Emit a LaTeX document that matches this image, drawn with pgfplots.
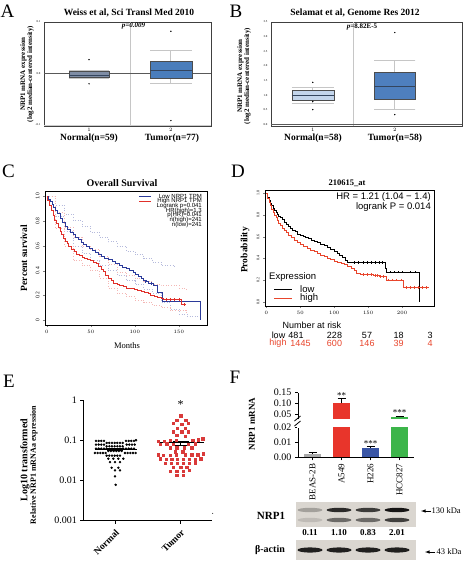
\documentclass[border=0pt]{standalone}
\usepackage{pgfplots}
\pgfplotsset{compat=1.18}
\usepgfplotslibrary{statistics}
\usepackage{fontspec}
\setmainfont{Liberation Serif}
\setsansfont{Liberation Sans}
\newcommand{\fs}[1]{\fontsize{#1}{#1}\selectfont}
\definecolor{anorm}{HTML}{7F8DA5}
\definecolor{atum}{HTML}{4A7DBB}
\definecolor{bnorm}{HTML}{C3D5EB}
\definecolor{btum}{HTML}{4E7FBE}
\definecolor{medc}{HTML}{34455E}
\definecolor{kmblue}{HTML}{2B3A9A}
\definecolor{kmred}{HTML}{E0302A}
\definecolor{dred}{HTML}{E8452C}
\definecolor{ered}{HTML}{D93A3A}
\definecolor{fgray}{HTML}{A9A9A9}
\definecolor{fred}{HTML}{E8352B}
\definecolor{fblue}{HTML}{3A56A6}
\definecolor{fgreen}{HTML}{3CB54A}
\definecolor{blot}{HTML}{DAD6D0}
\pgfplotsset{
  onco/.style={scale only axis, anchor=north west,
    axis line style={black!75, line width=0.7pt},
    major tick length=0pt,
    tick label style={font=\fs{3}},
    xticklabel style={yshift=1pt}},
  km/.style={scale only axis, anchor=north west,
    axis line style={black, line width=0.5pt},
    tick align=outside, major tick length=2pt, xtick pos=lower, ytick pos=left,
    yticklabel style={rotate=90, anchor=south}},
  obox/.style={boxplot/draw direction=y,
    boxplot/every whisker/.style={draw=gray!45, line width=0.9pt},
    boxplot/every median/.style={draw=medc, line width=0.9pt}},
}
\begin{document}
\begin{tikzpicture}
\path[use as bounding box] (0,0) rectangle (467pt,-568pt);
% ---------- panel letters ----------
\foreach \l/\x/\y in {A/7.5/11.5, B/236/11.5, C/8.5/171.5, D/238/171, E/9/381.5, F/235/377.5}
  \node[font=\fs{19}] at (\x pt,-\y pt) {\l};
% ---------- A ----------
\node[font=\bfseries\fs{9.5}] at (129pt,-13pt) {Weiss et al, Sci Transl Med 2010};
\node[font=\bfseries\fs{7}, rotate=90, align=center] at (27pt,-74pt) {NRP1 mRNA expression\\(log2 median-centered intensity)};
\begin{axis}[onco, at={(44pt,-22pt)}, width=167pt, height=104pt,
  xmin=0.45, xmax=2.49, ymin=-0.102, ymax=0.1,
  xtick={1,2}, ytick={-0.1,0,0.1}, yticklabels={-0.1,0.0,0.1}]
\addplot[gray!45, line width=0.6pt] coordinates {(1.5,-0.102) (1.5,0.1)};
\addplot[gray!40, line width=0.5pt] coordinates {(0.45,-0.1) (2.49,-0.1)};
\addplot[black!65, line width=0.6pt] coordinates {(0.45,0) (2.49,0)};
\addplot[fill=anorm, draw=gray!60!black, obox,
  boxplot prepared={draw position=1, median=-0.0033, upper quartile=0.0046, lower quartile=-0.0065,
    upper whisker=0.0065, lower whisker=-0.0098, box extend=0.49, whisker extend=0.49}] coordinates {};
\addplot[fill=atum, draw=gray!60!black, obox,
  boxplot prepared={draw position=2, median=0.0065, upper quartile=0.023, lower quartile=-0.0085,
    upper whisker=0.044, lower whisker=-0.020, box extend=0.51, whisker extend=0.51}] coordinates {};
\addplot[only marks, mark=*, mark size=0.45pt, black] coordinates {(1,0.027) (1,-0.02) (2,0.082) (2,-0.0915)};
\end{axis}
\node[font=\bfseries\itshape\fs{7}] at (133.5pt,-26pt) {p=0.009};
\node[font=\bfseries\fs{9.5}] at (89pt,-138pt) {Normal(n=59)};
\node[font=\bfseries\fs{9.5}] at (172pt,-138pt) {Tumor(n=77)};
% ---------- B ----------
\node[font=\bfseries\fs{9.5}] at (355pt,-13pt) {Selamat et al, Genome Res 2012};
\node[font=\bfseries\fs{7}, rotate=90, align=center] at (244pt,-76pt) {NRP1 mRNA expression\\(log2 median-centered intensity)};
\begin{axis}[onco, at={(271pt,-22pt)}, width=191pt, height=104pt,
  xmin=0.49, xmax=2.82, ymin=-0.05, ymax=3.5,
  xtick={1,2}, ytick={0,0.5,1,1.5,2,2.5,3,3.5}, yticklabels={0.0,0.5,1.0,1.5,2.0,2.5,3.0,3.5}]
\addplot[gray!45, line width=0.6pt] coordinates {(1.5,-0.05) (1.5,3.5)};
\addplot[black!65, line width=0.6pt] coordinates {(0.49,0) (2.82,0)};
\addplot[fill=bnorm, draw=gray!60!black, obox,
  boxplot prepared={draw position=1, median=0.98, upper quartile=1.16, lower quartile=0.82,
    upper whisker=1.27, lower whisker=0.73, box extend=0.51, whisker extend=0.51}] coordinates {};
\addplot[fill=btum, draw=gray!60!black, obox,
  boxplot prepared={draw position=2, median=1.29, upper quartile=1.77, lower quartile=0.88,
    upper whisker=2.19, lower whisker=0.50, box extend=0.5, whisker extend=0.5}] coordinates {};
\addplot[only marks, mark=*, mark size=0.45pt, black] coordinates {(1,1.44) (1,0.51) (1,0.79) (2,3.14) (2,0.34)};
\end{axis}
\node[font=\bfseries\fs{7}] at (362pt,-26.7pt) {\textit{p}=8.82E-5};
\node[font=\bfseries\fs{9.5}] at (313pt,-138pt) {Normal(n=58)};
\node[font=\bfseries\fs{9.5}] at (395pt,-138pt) {Tumor(n=58)};
% ---------- C ----------
\node[font=\bfseries\fs{10}] at (122pt,-183pt) {Overall Survival};
\node[font=\bfseries\fs{9.5}, rotate=90] at (24pt,-258pt) {Percent survival};
\node[font=\fs{8.5}] at (127pt,-346pt) {Months};
\begin{axis}[km, at={(45pt,-191.6pt)}, width=162pt, height=133.4pt,
  xmin=-2, xmax=182, ymin=-0.04, ymax=1.04,
  xtick={0,50,100,150}, ytick={0,0.2,0.4,0.6,0.8,1}, yticklabels={0,0.2,0.4,0.6,0.8,1.0},
  tick label style={font=\fs{5.5}}]
\addplot[const plot, kmblue!35, dotted, line width=0.6pt] coordinates {(0,1)(10,0.93)(20,0.86)(30,0.81)(40,0.76)(50,0.71)(60,0.67)(70,0.635)(80,0.6)(90,0.56)(100,0.53)(110,0.5)(120,0.47)(130,0.44)(145,0.43)};
\addplot[const plot, kmblue!35, dotted, line width=0.6pt] coordinates {(0,1)(10,0.84)(20,0.72)(30,0.6)(40,0.54)(50,0.48)(60,0.44)(70,0.4)(80,0.36)(90,0.32)(100,0.29)(110,0.25)(120,0.22)(130,0.14)(140,0.09)(150,0.05)(160,0.03)(175,0.02)};
\addplot[const plot, kmred!35, dotted, line width=0.6pt] coordinates {(0,1)(10,0.87)(20,0.75)(30,0.67)(40,0.6)(50,0.57)(60,0.52)(70,0.45)(80,0.39)(90,0.36)(100,0.34)(110,0.31)(120,0.29)(130,0.28)(150,0.26)(158,0.25)};
\addplot[const plot, kmred!35, dotted, line width=0.6pt] coordinates {(0,1)(10,0.74)(20,0.6)(30,0.48)(40,0.44)(50,0.4)(60,0.34)(70,0.26)(80,0.22)(90,0.19)(100,0.16)(110,0.14)(120,0.12)(130,0.1)(140,0.08)(158,0.05)};
\addplot[const plot, kmblue, line width=0.8pt] coordinates {(0,1)(2,0.98)(4,0.96)(6,0.935)(8,0.91)(10,0.885)(12,0.86)(15,0.825)(18,0.79)(21,0.76)(24,0.735)(27,0.71)(30,0.69)(33,0.67)(36,0.65)(39,0.63)(42,0.61)(45,0.595)(48,0.58)(52,0.56)(55,0.55)(59,0.53)(62,0.515)(66,0.5)(70,0.49)(74,0.475)(78,0.46)(82,0.445)(86,0.43)(90,0.415)(94,0.4)(98,0.385)(101,0.37)(104,0.355)(107,0.34)(110,0.325)(113,0.31)(116,0.295)(121,0.28)(126,0.225)(131,0.155)(175,0.155)(175,0)};
\addplot[const plot, kmred, line width=0.8pt] coordinates {(0,1)(1,0.97)(3,0.93)(5,0.885)(7,0.845)(9,0.81)(11,0.78)(13,0.75)(15,0.72)(17,0.69)(19,0.665)(21,0.64)(23,0.62)(25,0.6)(28,0.575)(31,0.555)(34,0.535)(37,0.52)(40,0.51)(43,0.5)(46,0.49)(50,0.48)(53,0.47)(56,0.455)(59,0.435)(62,0.41)(64,0.39)(67,0.365)(70,0.34)(73,0.32)(76,0.3)(80,0.29)(83,0.28)(87,0.27)(91,0.26)(95,0.26)(99,0.25)(103,0.24)(107,0.232)(111,0.222)(115,0.212)(118,0.203)(122,0.195)(126,0.185)(130,0.175)(133,0.165)(153,0.13)(158,0.13)};
\addplot[only marks, mark=|, mark size=1.5pt, kmblue] coordinates {(112,0.31)(119,0.295)(140,0.155)(150,0.155)};
\addplot[only marks, mark=|, mark size=1.5pt, kmred] coordinates {(136,0.165)(140,0.165)(145,0.165)(150,0.165)(156,0.13)};
\end{axis}
\draw[kmblue, line width=0.6pt] (139pt,-196.7pt) -- (151pt,-196.7pt);
\draw[kmred, line width=0.6pt] (139pt,-201.3pt) -- (151pt,-201.3pt);
\foreach \t/\y in {Low NRP1 TPM/196.7, High NRP1 TPM/201.3, Logrank p=0.041/206, HR(high)=1.3/210.7, p(HR)=0.041/215.4, n(high)=241/220.1, n(low)=241/224.8}
  \node[font=\sffamily\fs{6}, anchor=east, inner sep=0pt] at (202pt,-\y pt) {\t};
% ---------- D ----------
\node[font=\bfseries\fs{8.5}] at (347pt,-183pt) {210615\_at};
\node[font=\bfseries\fs{9.5}, rotate=90] at (245pt,-250pt) {Probability};
\begin{axis}[km, at={(265pt,-190pt)}, width=169pt, height=116pt,
  xmin=-2, xmax=247, ymin=-0.04, ymax=1.03,
  xtick={0,50,100,150,200}, ytick={0,0.2,0.4,0.6,0.8,1}, yticklabels={0.0,0.2,0.4,0.6,0.8,1.0},
  tick label style={font=\fs{4}}]
\addplot[const plot, black, line width=0.7pt] coordinates {(0,1)(2,0.96)(4,0.93)(6,0.905)(8,0.885)(10,0.865)(12,0.845)(14,0.825)(16,0.805)(18,0.79)(20,0.775)(23,0.755)(26,0.735)(29,0.715)(32,0.695)(35,0.675)(38,0.66)(42,0.645)(46,0.625)(50,0.61)(54,0.6)(58,0.59)(62,0.58)(66,0.57)(70,0.56)(75,0.545)(80,0.53)(85,0.515)(90,0.5)(95,0.485)(100,0.465)(104,0.445)(108,0.425)(112,0.405)(116,0.385)(120,0.363)(175,0.31)(177,0.271)(226,0.271)(226,0)};
\addplot[const plot, dred, line width=0.7pt] coordinates {(0,1)(2,0.955)(4,0.92)(6,0.89)(8,0.855)(10,0.825)(12,0.8)(14,0.775)(16,0.75)(18,0.725)(20,0.705)(23,0.68)(26,0.66)(29,0.64)(33,0.615)(37,0.595)(41,0.57)(45,0.55)(50,0.53)(55,0.51)(60,0.49)(65,0.475)(70,0.46)(75,0.445)(80,0.43)(85,0.415)(90,0.4)(95,0.39)(100,0.375)(105,0.365)(110,0.355)(115,0.34)(120,0.325)(125,0.31)(129,0.29)(133,0.262)(138,0.25)(158,0.24)(166,0.232)(177,0.2)(202,0.13)(239,0.13)};
\addplot[only marks, mark=|, mark size=1.2pt, black] coordinates {(130,0.363)(136,0.363)(142,0.363)(148,0.363)(154,0.363)(160,0.363)(166,0.363)(170,0.363)(182,0.271)(188,0.271)(194,0.271)(200,0.271)(212,0.271)(220,0.271)};
\addplot[only marks, mark=|, mark size=1.2pt, dred] coordinates {(142,0.25)(148,0.25)(154,0.25)(160,0.24)(163,0.24)(168,0.232)(172,0.232)(180,0.2)(186,0.2)(192,0.2)(198,0.2)(206,0.13)(212,0.13)(218,0.13)(224,0.13)(230,0.13)(236,0.13)};
\end{axis}
\node[font=\sffamily\fs{9.5}, anchor=east, inner sep=0pt] at (431pt,-197pt) {HR = 1.21 (1.04 − 1.4)};
\node[font=\sffamily\fs{9.5}, anchor=east, inner sep=0pt] at (431pt,-207pt) {logrank P = 0.014};
\node[font=\sffamily\fs{9.5}, anchor=west, inner sep=0pt] at (269pt,-277pt) {Expression};
\draw[black, line width=0.7pt] (274pt,-289pt) -- (292pt,-289pt);
\draw[dred, line width=0.7pt] (274pt,-298.3pt) -- (292pt,-298.3pt);
\node[font=\sffamily\fs{9.5}, anchor=west, inner sep=0pt] at (300pt,-289pt) {low};
\node[font=\sffamily\fs{9.5}, anchor=west, inner sep=0pt] at (300pt,-298.3pt) {high};
\node[font=\sffamily\fs{9}] at (312pt,-325pt) {Number at risk};
\foreach \t/\x in {low/278.5, 481/296, 228/334.5, 57/367, 18/398.7, 3/430}
  \node[font=\sffamily\fs{9}, inner sep=0pt] at (\x pt,-335pt) {\t};
\foreach \t/\x in {high/278, 1445/300.5, 600/334.5, 146/367, 39/398.7, 4/430}
  \node[font=\sffamily\fs{9}, text=dred, inner sep=0pt] at (\x pt,-343.5pt) {\t};
% ---------- E ----------
\node[font=\bfseries\fs{10}, rotate=90] at (25pt,-460pt) {Log10 transformed};
\node[font=\bfseries\fs{8}, rotate=90] at (34pt,-465pt) {Relative NRP1 mRNAa expression};
\begin{axis}[scale only axis, anchor=north west, at={(83.3pt,-400pt)}, width=128.4pt, height=120.7pt,
  ymode=log, ymin=0.001, ymax=1, xmin=70, xmax=455,
  axis x line*=bottom, axis y line*=left, axis line style={line width=0.9pt},
  xtick={165,362}, xticklabels={Normal,Tumor},
  ytick={0.001,0.01,0.1,1}, yticklabels={0.001,0.01,0.1,1}, yminorticks=false,
  tick align=outside, major tick length=3pt, tick style={line width=0.8pt, black},
  xticklabel style={rotate=45, anchor=north east, font=\bfseries\fs{9.5}},
  yticklabel style={font=\fs{10}}]
\addplot[only marks, mark=*, mark size=1pt, black] table[row sep=\\] {x y\\
108 0.0962\\116 0.0962\\124 0.0962\\132 0.0962\\198 0.0962\\206 0.0962\\214 0.0962\\222 0.0962\\228 0.100\\
140 0.0858\\148 0.0858\\156 0.0858\\164 0.0858\\172 0.0858\\180 0.0858\\188 0.0858\\
108 0.0779\\116 0.0779\\124 0.0779\\132 0.0779\\200 0.0779\\208 0.0779\\216 0.0779\\224 0.0779\\
140 0.0708\\148 0.0708\\156 0.0708\\164 0.0708\\172 0.0708\\180 0.0708\\188 0.0708\\
108 0.0619\\116 0.0619\\124 0.0619\\132 0.0619\\140 0.0619\\190 0.0619\\198 0.0619\\206 0.0619\\214 0.0619\\222 0.0619\\
145 0.0541\\153 0.0541\\161 0.0541\\169 0.0541\\177 0.0541\\185 0.0541\\
105 0.0482\\113 0.0482\\121 0.0482\\129 0.0482\\137 0.0482\\195 0.0482\\203 0.0482\\211 0.0482\\219 0.0482\\227 0.0482\\
140 0.0414\\148 0.0414\\156 0.0414\\164 0.0414\\172 0.0414\\180 0.0414\\
145 0.0348\\160 0.0348\\175 0.0348\\190 0.0348\\
150 0.0287\\165 0.0287\\180 0.0287\\
155 0.0207\\175 0.0207\\165 0.0178\\180 0.0178\\165 0.0126\\167 0.0078\\
};
\addplot[only marks, mark=square*, mark size=1.15pt, ered] table[row sep=\\] {x y\\
362 0.406\\350 0.316\\377 0.316\\340 0.261\\365 0.251\\385 0.261\\352 0.196\\375 0.196\\
340 0.162\\365 0.162\\385 0.162\\350 0.133\\375 0.128\\
295 0.0962\\312 0.0962\\330 0.100\\348 0.100\\398 0.100\\415 0.104\\428 0.110\\
300 0.0794\\320 0.0825\\340 0.0794\\385 0.0794\\405 0.0825\\
330 0.0656\\350 0.0656\\372 0.0656\\395 0.0656\\345 0.0521\\368 0.0521\\
295 0.0438\\310 0.0422\\330 0.0422\\348 0.0438\\375 0.0438\\395 0.0438\\413 0.0438\\430 0.0464\\
300 0.0348\\318 0.0335\\335 0.0335\\352 0.0335\\370 0.0335\\388 0.0335\\405 0.0335\\422 0.0348\\
315 0.0271\\333 0.0271\\352 0.0271\\370 0.0271\\388 0.0271\\405 0.0276\\
340 0.0215\\362 0.0215\\380 0.0215\\330 0.0168\\350 0.0168\\370 0.0168\\388 0.0178\\350 0.0133\\370 0.0133\\
};
\addplot[black, line width=0.9pt] coordinates {(105,0.0584) (230,0.0584)};
\addplot[black, line width=0.9pt] coordinates {(298,0.0858) (432,0.0858)};
\addplot[black, mark=none, line width=0.6pt, error bars/.cd, y dir=both, y explicit,
  error bar style={line width=0.6pt}, error mark options={rotate=90, mark size=8pt, line width=0.6pt}]
  coordinates {(165,0.0584) +- (0,0.0035)};
\addplot[black, mark=none, line width=0.6pt, error bars/.cd, y dir=both, y explicit,
  error bar style={line width=0.6pt}, error mark options={rotate=90, mark size=8pt, line width=0.6pt}]
  coordinates {(362,0.0858) +- (0,0.0095)};
\node[font=\fs{12}] at (axis cs:362,0.75) {*};
\end{axis}
\fill (212.7pt,-513.3pt) circle (0.5pt);
% ---------- F ----------
\node[font=\bfseries\fs{9}, rotate=90] at (252pt,-424pt) {NRP1 mRNA};
\begin{axis}[scale only axis, anchor=north west, at={(298pt,-392.7pt)}, width=116pt, height=26.6pt,
  xmin=-0.5, xmax=3.5, ymin=0.025, ymax=0.15, scaled y ticks=false,
  axis y line*=left, axis x line=none, axis line style={line width=0.9pt},
  ytick={0.05,0.1,0.15}, yticklabels={0.05,0.10,0.15}, xtick=\empty,
  tick align=outside, major tick length=3pt, tick style={line width=0.8pt, black},
  yticklabel style={font=\fs{10}}]
\addplot[ybar, bar width=17pt, bar shift=0pt, fill=fred, draw=none, error bars/.cd, y dir=plus, y explicit,
  error bar style={black, line width=0.8pt}, error mark options={rotate=90, mark size=4pt, black, line width=0.8pt}]
  coordinates {(1,0.100) +- (0,0.023)};
\addplot[ybar, bar width=17pt, bar shift=0pt, fill=fgreen, draw=none, error bars/.cd, y dir=plus, y explicit,
  error bar style={black, line width=0.8pt}, error mark options={rotate=90, mark size=4pt, black, line width=0.8pt}]
  coordinates {(3,0.037) +- (0,0.003)};
\node[font=\fs{9}, anchor=south, inner sep=0pt] at (axis cs:1,0.124) {**};
\node[font=\fs{9}, anchor=south, inner sep=0pt] at (axis cs:3,0.041) {***};
\end{axis}
\begin{axis}[scale only axis, anchor=north west, at={(298pt,-427.7pt)}, width=116pt, height=29.6pt,
  xmin=-0.5, xmax=3.5, ymin=0, ymax=0.02, scaled y ticks=false,
  axis y line*=left, axis x line*=bottom, axis line style={line width=0.9pt},
  ytick={0,0.01,0.02}, yticklabels={0.00,0.01,0.02}, xtick={0,1,2,3},
  xticklabels={BEAS-2B,A549,H226,HCC827},
  tick align=outside, major tick length=3pt, tick style={line width=0.8pt, black},
  yticklabel style={font=\fs{10}},
  xticklabel style={rotate=90, anchor=east, font=\fs{9}}]
\addplot[ybar, bar width=17pt, bar shift=0pt, fill=fgray, draw=none, error bars/.cd, y dir=plus, y explicit,
  error bar style={black, line width=0.8pt}, error mark options={rotate=90, mark size=4pt, black, line width=0.8pt}]
  coordinates {(0,0.0023) +- (0,0.0007)};
\addplot[ybar, bar width=17pt, bar shift=0pt, fill=fred, draw=none] coordinates {(1,0.100)};
\addplot[ybar, bar width=17pt, bar shift=0pt, fill=fblue, draw=none, error bars/.cd, y dir=plus, y explicit,
  error bar style={black, line width=0.8pt}, error mark options={rotate=90, mark size=4pt, black, line width=0.8pt}]
  coordinates {(2,0.0062) +- (0,0.0011)};
\addplot[ybar, bar width=17pt, bar shift=0pt, fill=fgreen, draw=none] coordinates {(3,0.037)};
\node[font=\fs{9}, anchor=south, inner sep=0pt] at (axis cs:2,0.0075) {***};
\end{axis}
\draw[white, line width=2pt] (298pt,-419.5pt) -- (298pt,-427.5pt);
\draw[black, line width=0.8pt] (294.5pt,-421pt) -- (300.5pt,-416pt);
\draw[black, line width=0.8pt] (294.5pt,-426pt) -- (300.5pt,-421pt);
% western blot
\fill[blot] (296pt,-502pt) rectangle (416pt,-527pt);
\fill[blot] (296pt,-540pt) rectangle (416pt,-560pt);
\foreach \x/\a/\b in {310/25/12, 339/80/50, 368/72/50, 397/90/70}{
  \fill[black, opacity=\a/100] (\x pt,-510pt) ellipse (12.5pt and 2.2pt);
  \fill[black, opacity=\b/100] (\x pt,-520pt) ellipse (12.5pt and 2.2pt);
  \fill[black, opacity=0.85] (\x pt,-550pt) ellipse (12.5pt and 2.6pt);
}
\node[font=\bfseries\fs{11}] at (271pt,-516pt) {NRP1};
\node[font=\bfseries\fs{10}] at (270pt,-550pt) {β-actin};
\foreach \t/\x in {0.11/310, 1.10/339, 0.83/368, 2.01/397}
  \node[font=\bfseries\fs{9}] at (\x pt,-533pt) {\t};
\draw[-latex, line width=0.6pt] (431pt,-511pt) -- (421pt,-511pt);
\node[font=\fs{8.5}, anchor=west, inner sep=0.5pt] at (431pt,-511pt) {130 kDa};
\draw[-latex, line width=0.6pt] (435pt,-552pt) -- (425pt,-552pt);
\node[font=\fs{8.5}, anchor=west, inner sep=0.5pt] at (436pt,-552pt) {43 kDa};
\end{tikzpicture}
\end{document}
